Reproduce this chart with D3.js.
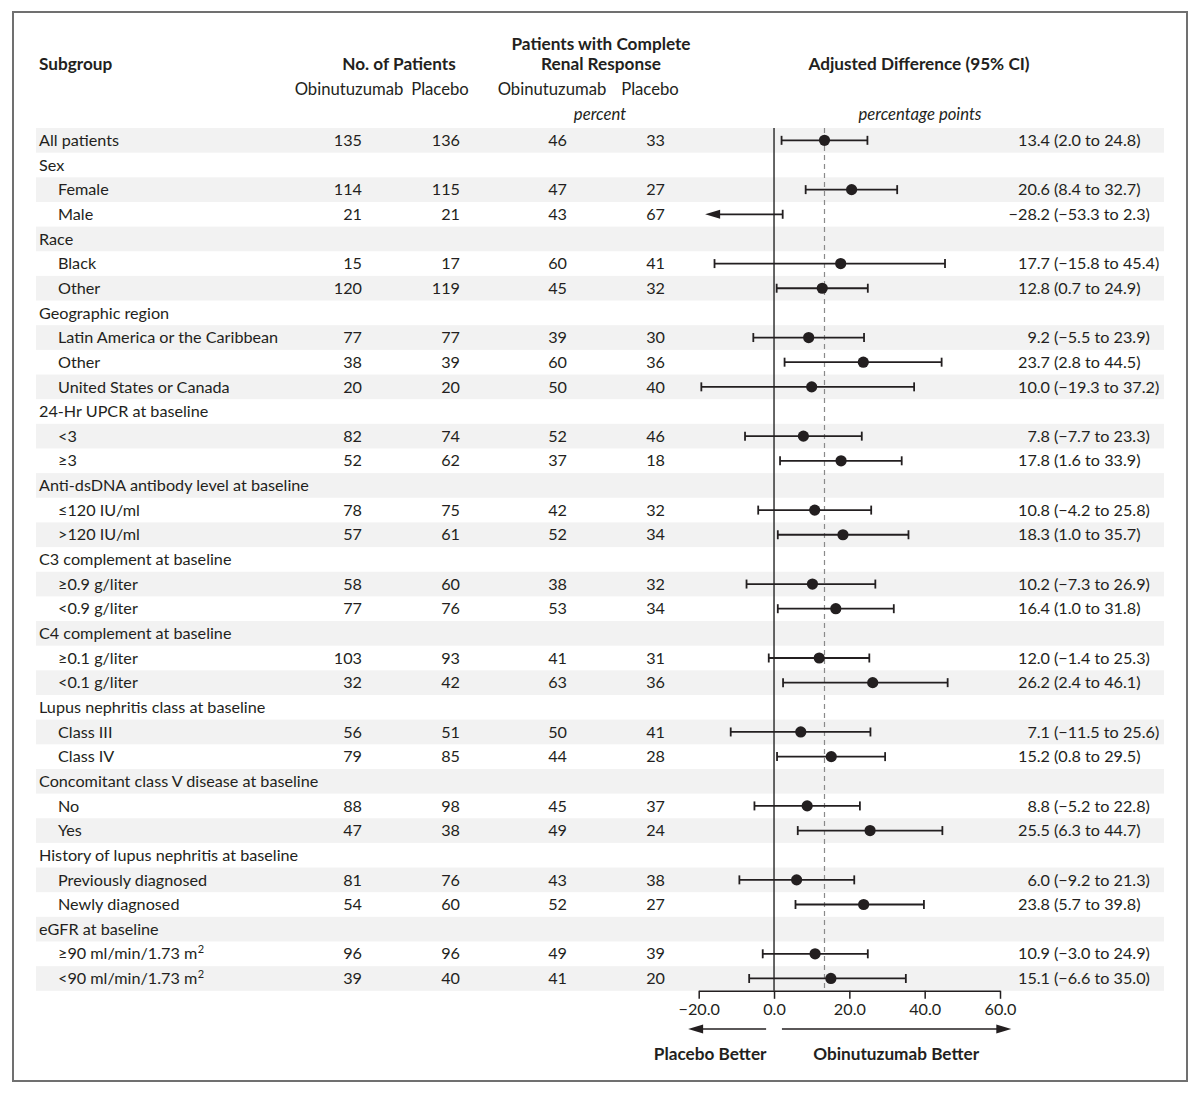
<!DOCTYPE html>
<html>
<head>
<meta charset="utf-8">
<script src="https://cdn.jsdelivr.net/npm/d3@7"></script>
<style>
  body { margin: 0; background: #fff; }
  svg text { font-family: Lato, 'Open Sans', sans-serif; fill: #231f20; }
</style>
</head>
<body>
<svg id="forest"></svg>
<script>
// Chart data
const subgroups = [
  'All patients', 'Sex', 'Female', 'Male', 'Race', 'Black', 'Other',
  'Geographic region', 'Latin America or the Caribbean', 'Other', 'United States or Canada',
  '24-Hr UPCR at baseline', '<3', '≥3',
  'Anti-dsDNA antibody level at baseline', '≤120 IU/ml', '>120 IU/ml',
  'C3 complement at baseline', '≥0.9 g/liter', '<0.9 g/liter',
  'C4 complement at baseline', '≥0.1 g/liter', '<0.1 g/liter',
  'Lupus nephritis class at baseline', 'Class III', 'Class IV',
  'Concomitant class V disease at baseline', 'No', 'Yes',
  'History of lupus nephritis at baseline', 'Previously diagnosed', 'Newly diagnosed',
  'eGFR at baseline', '≥90 ml/min/1.73 m²', '<90 ml/min/1.73 m²'
];
const indent = [0, 0, 1, 1, 0, 1, 1, 0, 1, 1, 1, 0, 1, 1, 0, 1, 1, 0, 1, 1, 0, 1, 1, 0, 1, 1, 0, 1, 1, 0, 1, 1, 0, 1, 1];

const nObinutuzumab = [135, null, 114, 21, null, 15, 120, null, 77, 38, 20, null, 82, 52, null, 78, 57, null, 58, 77, null, 103, 32, null, 56, 79, null, 88, 47, null, 81, 54, null, 96, 39];
const nPlacebo = [136, null, 115, 21, null, 17, 119, null, 77, 39, 20, null, 74, 62, null, 75, 61, null, 60, 76, null, 93, 42, null, 51, 85, null, 98, 38, null, 76, 60, null, 96, 40];
const pctObinutuzumab = [46, null, 47, 43, null, 60, 45, null, 39, 60, 50, null, 52, 37, null, 42, 52, null, 38, 53, null, 41, 63, null, 50, 44, null, 45, 49, null, 43, 52, null, 49, 41];
const pctPlacebo = [33, null, 27, 67, null, 41, 32, null, 30, 36, 40, null, 46, 18, null, 32, 34, null, 32, 34, null, 31, 36, null, 41, 28, null, 37, 24, null, 38, 27, null, 39, 20];

const estimate = [13.4, null, 20.6, -28.2, null, 17.7, 12.8, null, 9.2, 23.7, 10.0, null, 7.8, 17.8, null, 10.8, 18.3, null, 10.2, 16.4, null, 12.0, 26.2, null, 7.1, 15.2, null, 8.8, 25.5, null, 6.0, 23.8, null, 10.9, 15.1];
const ciLower = [2.0, null, 8.4, -53.3, null, -15.8, 0.7, null, -5.5, 2.8, -19.3, null, -7.7, 1.6, null, -4.2, 1.0, null, -7.3, 1.0, null, -1.4, 2.4, null, -11.5, 0.8, null, -5.2, 6.3, null, -9.2, 5.7, null, -3.0, -6.6];
const ciUpper = [24.8, null, 32.7, 2.3, null, 45.4, 24.9, null, 23.9, 44.5, 37.2, null, 23.3, 33.9, null, 25.8, 35.7, null, 26.9, 31.8, null, 25.3, 46.1, null, 25.6, 29.5, null, 22.8, 44.7, null, 21.3, 39.8, null, 24.9, 35.0];

const axisTicks = [-20, 0, 20, 40, 60];

const rows = subgroups.map((label, i) => ({
  i,
  label,
  indent: indent[i],
  nObi: nObinutuzumab[i],
  nPbo: nPlacebo[i],
  pObi: pctObinutuzumab[i],
  pPbo: pctPlacebo[i],
  est: estimate[i],
  lo: ciLower[i],
  hi: ciUpper[i]
}));

const width = 1200;
const height = 1094;
const ink = '#231f20';
const fmt = v => d3.format('.1f')(v).replace('-', '–');

const svg = d3.select('#forest')
  .attr('width', width)
  .attr('height', height);

// Frame
svg.append('rect')
  .attr('x', 13).attr('y', 12)
  .attr('width', 1174).attr('height', 1069)
  .attr('fill', 'none')
  .attr('stroke', '#707070')
  .attr('stroke-width', 2);

// Set the ranges
const y = d3.scaleBand()
  .domain(rows.map(d => d.i))
  .range([128, 990.8]);

const x = d3.scaleLinear()
  .domain([-20, 60])
  .range([698.7, 1000]);

const rowY = i => y(i) + y.bandwidth() / 2;

// Stripes on every other row
svg.append('g')
  .selectAll('rect')
  .data(rows.filter(d => d.i % 2 === 0))
  .join('rect')
    .attr('x', 36)
    .attr('y', d => y(d.i))
    .attr('width', 1128)
    .attr('height', y.bandwidth())
    .attr('fill', '#f2f2f2');

// Headers
const header = svg.append('g');
const headText = (t, px, py, opts = {}) => header.append('text')
  .attr('x', px).attr('y', py)
  .attr('dy', '0.35em')
  .attr('text-anchor', opts.anchor || 'middle')
  .attr('font-size', opts.bold ? 17.2 : 16.7)
  .attr('font-weight', opts.bold ? 700 : 400)
  .attr('font-style', opts.italic ? 'italic' : 'normal')
  .text(t);

headText('Subgroup', 39, 64, {anchor: 'start', bold: true});
headText('No. of Patients', 399, 64, {bold: true});
headText('Obinutuzumab', 349, 89);
headText('Placebo', 440, 89);
headText('Patients with Complete', 601, 44, {bold: true});
headText('Renal Response', 601, 64, {bold: true});
headText('Obinutuzumab', 552, 89);
headText('Placebo', 650, 89);
headText('percent', 600, 114, {italic: true});
headText('Adjusted Difference (95% CI)', 919, 64, {bold: true});
headText('percentage points', 920, 114, {italic: true});

// Table columns
const table = svg.append('g').attr('font-size', 16.2);

const column = (key, px, anchor) => table.append('g')
  .selectAll('text')
  .data(rows.filter(d => d[key] !== null))
  .join('text')
    .attr('x', px)
    .attr('y', d => rowY(d.i))
    .attr('dy', '0.35em')
    .attr('text-anchor', anchor)
    .text(d => d[key]);

// Subgroup labels, with a real superscript for m²
table.append('g')
  .selectAll('text')
  .data(rows)
  .join('text')
    .attr('x', d => d.indent ? 58 : 39)
    .attr('y', d => rowY(d.i))
    .attr('dy', '0.35em')
    .each(function(d) {
      const t = d3.select(this);
      if (d.label.endsWith('²')) {
        t.append('tspan').text(d.label.slice(0, -1));
        t.append('tspan')
          .attr('font-size', 11)
          .attr('dy', '-0.55em')
          .attr('dx', 0.5)
          .text('2');
      } else {
        t.text(d.label);
      }
    });

column('nObi', 362, 'end');
column('nPbo', 460, 'end');
column('pObi', 567, 'end');
column('pPbo', 665, 'end');

const withEst = rows.filter(d => d.est !== null);

table.append('g')
  .selectAll('text')
  .data(withEst)
  .join('text')
    .attr('x', 1050)
    .attr('y', d => rowY(d.i))
    .attr('dy', '0.35em')
    .attr('text-anchor', 'end')
    .text(d => fmt(d.est));

table.append('g')
  .selectAll('text')
  .data(withEst)
  .join('text')
    .attr('x', 1054)
    .attr('y', d => rowY(d.i))
    .attr('dy', '0.35em')
    .text(d => `(${fmt(d.lo)} to ${fmt(d.hi)})`);

// Reference lines
const yTop = y.range()[0];
const yBottom = y.range()[1];

svg.append('line')
  .attr('x1', x(estimate[0])).attr('x2', x(estimate[0]))
  .attr('y1', yTop).attr('y2', yBottom)
  .attr('stroke', '#8a8a8a')
  .attr('stroke-width', 1.2)
  .attr('stroke-dasharray', '5,4');

svg.append('line')
  .attr('x1', x(0)).attr('x2', x(0))
  .attr('y1', yTop).attr('y2', yBottom)
  .attr('stroke', '#333')
  .attr('stroke-width', 1.5);

// Confidence intervals
const capHalf = 4.5;
const xMin = x.domain()[0];
const ci = svg.append('g').attr('stroke', ink).attr('stroke-width', 1.8);

withEst.forEach(d => {
  const cy = rowY(d.i);
  const clipped = d.lo < xMin;
  const left = clipped ? x(xMin + 1.7) : x(d.lo);

  ci.append('line')
    .attr('x1', clipped ? left + 6 : left).attr('x2', x(d.hi))
    .attr('y1', cy).attr('y2', cy);

  ci.append('line')
    .attr('x1', x(d.hi)).attr('x2', x(d.hi))
    .attr('y1', cy - capHalf).attr('y2', cy + capHalf);

  if (clipped) {
    svg.append('path')
      .attr('d', `M${left},${cy}L${left + 15},${cy - 4.5}L${left + 15},${cy + 4.5}Z`)
      .attr('fill', ink);
  } else {
    ci.append('line')
      .attr('x1', x(d.lo)).attr('x2', x(d.lo))
      .attr('y1', cy - capHalf).attr('y2', cy + capHalf);
  }

  if (d.est >= xMin) {
    svg.append('circle')
      .attr('cx', x(d.est))
      .attr('cy', cy)
      .attr('r', 5.6)
      .attr('fill', ink);
  }
});

// Add the X Axis
const xAxis = d3.axisBottom(x)
  .tickValues(axisTicks)
  .tickSize(8)
  .tickPadding(5)
  .tickSizeOuter(0)
  .tickFormat(fmt);

const axisG = svg.append('g')
  .attr('transform', `translate(0,${yBottom})`)
  .call(xAxis);

axisG.select('.domain').attr('stroke', ink).attr('stroke-width', 1.5);
axisG.selectAll('.tick line').attr('stroke', ink).attr('stroke-width', 1.5);
axisG.selectAll('.tick text')
  .attr('font-family', 'Lato, sans-serif')
  .attr('font-size', 16.2)
  .attr('fill', ink);

// Direction arrows
const arrowY = 1029;
const arrow = (from, to) => {
  const x1 = x(from);
  const x2 = x(to);
  const dir = Math.sign(x2 - x1);
  svg.append('line')
    .attr('x1', x1).attr('x2', x2 - dir * 12)
    .attr('y1', arrowY).attr('y2', arrowY)
    .attr('stroke', ink)
    .attr('stroke-width', 1.5);
  svg.append('path')
    .attr('d', `M${x2},${arrowY}L${x2 - dir * 15},${arrowY - 4.5}L${x2 - dir * 15},${arrowY + 4.5}Z`)
    .attr('fill', ink);
};

arrow(-2.1, -22.8);
arrow(2.1, 63);

svg.append('text')
  .attr('x', x(-2.0)).attr('y', 1054)
  .attr('dy', '0.35em')
  .attr('text-anchor', 'end')
  .attr('font-size', 17.2)
  .attr('font-weight', 700)
  .text('Placebo Better');

svg.append('text')
  .attr('x', x(10.4)).attr('y', 1054)
  .attr('dy', '0.35em')
  .attr('font-size', 17.2)
  .attr('font-weight', 700)
  .text('Obinutuzumab Better');
</script>
</body>
</html>
